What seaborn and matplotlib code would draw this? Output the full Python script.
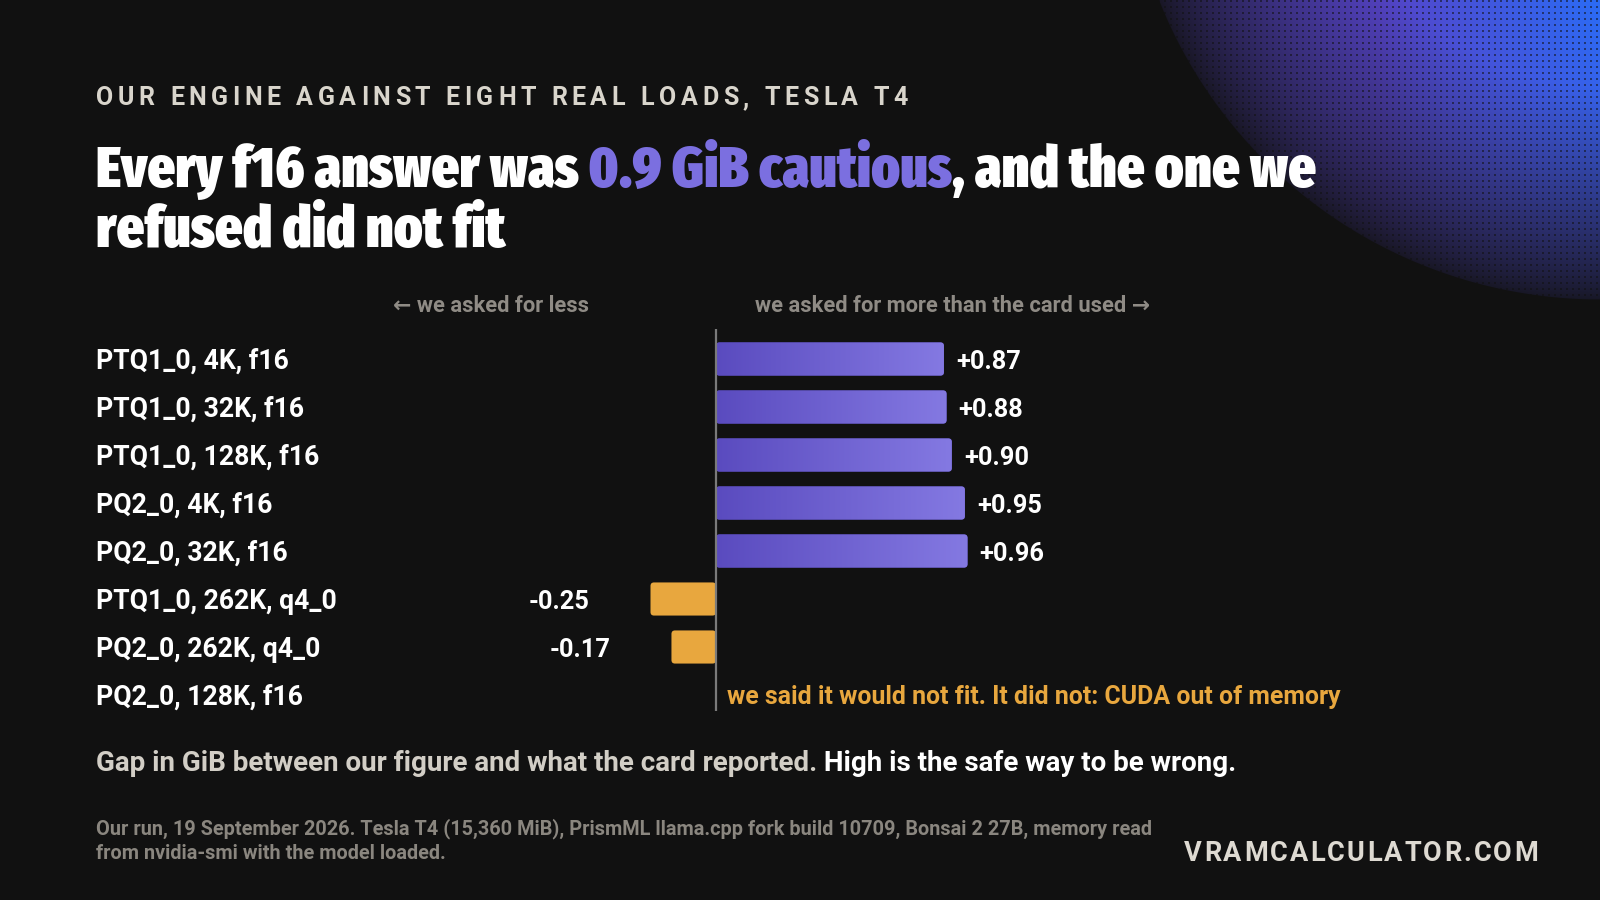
import numpy as np
import pandas as pd
import matplotlib
matplotlib.use("Agg")
import matplotlib.pyplot as plt
import seaborn as sns
from matplotlib import font_manager as fm
from matplotlib.transforms import blended_transform_factory, offset_copy
from matplotlib.colors import LinearSegmentedColormap
from matplotlib.patches import FancyBboxPatch

# ---------------- data ----------------
categories = ["PTQ1_0, 4K, f16", "PTQ1_0, 32K, f16", "PTQ1_0, 128K, f16",
              "PQ2_0, 4K, f16", "PQ2_0, 32K, f16", "PTQ1_0, 262K, q4_0",
              "PQ2_0, 262K, q4_0", "PQ2_0, 128K, f16"]
gaps = [0.87, 0.88, 0.90, 0.95, 0.96, -0.25, -0.17, np.nan]
value_labels = ["+0.87", "+0.88", "+0.90", "+0.95", "+0.96", "-0.25", "-0.17", ""]
kinds = ["over", "over", "over", "over", "over", "under", "under", "refused"]
refused_note = "we said it would not fit. It did not: CUDA out of memory"

kicker = "OUR ENGINE AGAINST EIGHT REAL LOADS, TESLA T4"
title_l1 = [("Every f16 answer was ", "white"), ("0.9 GiB cautious", "#7b6fe0"),
            (", and the one we", "white")]
title_l2 = "refused did not fit"
left_hint = "\u2190 we asked for less"
right_hint = "we asked for more than the card used \u2192"
caption = [("Gap in GiB between our figure and what the card reported.", "#d2cec6"),
           (" High is the safe way to be wrong.", "white")]
footer = ["Our run, 19 September 2026. Tesla T4 (15,360 MiB), PrismML llama.cpp fork build 10709, Bonsai 2 27B, memory read",
          "from nvidia-smi with the model loaded."]
brand = "VRAMCALCULATOR.COM"

W, H = 1600, 900
BG = "#111111"
PURPLE_L, PURPLE_R = "#5a4bbf", "#8479e2"
ORANGE = "#e8a73e"

sns.set_theme(style="white")
plt.rcParams["font.family"] = ["DejaVu Sans"]

fontinfo = {}
for fe in fm.fontManager.ttflist:
    try:
        wv = int(fe.weight)
    except (TypeError, ValueError):
        wv = {"bold": 700, "heavy": 800, "black": 900, "normal": 400}.get(str(fe.weight), 400)
    fontinfo.setdefault(fe.name, set()).add(wv)

def pick(cands, min_w):
    for n in cands:
        if n in fontinfo and max(fontinfo[n]) >= min_w:
            return n
    return "DejaVu Sans"

TITLE_FAM = pick(["Archivo ExtraCondensed", "Archivo Condensed", "Fira Sans Extra Condensed",
                  "Barlow Condensed", "Roboto Condensed"], 800)
BODY_FAM = pick(["Libre Franklin", "Public Sans", "Work Sans", "Roboto", "DejaVu Sans"], 700)
TITLE_KW = dict(family=[TITLE_FAM, "DejaVu Sans"], fontweight="black")
BODY_KW = dict(family=[BODY_FAM, "DejaVu Sans"], fontweight="bold")

fig = plt.figure(figsize=(16, 9), dpi=100, facecolor=BG)
renderer = fig.canvas.get_renderer()

def text_w(s_, size, **kw):
    t = fig.text(0, 0, "|" + s_ + "|", fontsize=size, **kw)
    t2 = fig.text(0, 0, "||", fontsize=size, **kw)
    w = t.get_window_extent(renderer).width - t2.get_window_extent(renderer).width
    t.remove(); t2.remove()
    return w

def fit(s_, target, maxsize=None, **kw):
    sz = 10 * target / text_w(s_, 10, **kw)
    return min(sz, maxsize) if maxsize else sz

# ---------------- decorative blob (top right) ----------------
yy, xx = np.mgrid[0:330, 1080:1600] + 0.5
cx, cy, R = 1600, -175, 475
d = np.hypot(xx - cx, yy - cy) / R
purple = np.array([0x56, 0x44, 0xc8]) / 255
blue = np.array([0x2b, 0x6c, 0xf6]) / 255
bgc = np.array([0x11, 0x11, 0x11]) / 255
s = np.clip((xx - 1380) / 220, 0, 1) * np.clip(1 - yy / 380, 0, 1)
base = purple * (1 - s[..., None]) + blue * s[..., None]
f = np.clip((1 - d) / 0.45, 0, 1) ** 0.8
k = 0.10 + 0.90 * f
col = bgc + (base - bgc) * k[..., None]
dots = ((xx.astype(int) % 6) < 2) & ((yy.astype(int) % 6) < 2)
col = np.where(dots[..., None], col * 0.45 + bgc * 0.55, col)
alpha = np.clip((1 - d) * R, 0, 1)
fig.figimage(np.dstack([col, alpha]), xo=1080, yo=H - 330, origin="upper", zorder=0)

# ---------------- chart ----------------
left_px, right_px, top_px, bot_px = 96, 1400, 329, 711
zero_px, ppu = 716, 262.0
row0_px, row_step = 359.0, 48.0
ax = fig.add_axes([left_px / W, 1 - bot_px / H, (right_px - left_px) / W, (bot_px - top_px) / H])
ax.set_facecolor("none")

df = pd.DataFrame({"label": categories, "gap": gaps, "kind": kinds})
sns.barplot(data=df, y="label", x="gap", hue="kind", order=categories,
            palette={"over": PURPLE_L, "under": ORANGE, "refused": ORANGE},
            dodge=False, width=0.69, orient="h", legend=False, ax=ax,
            saturation=1, linewidth=0, errorbar=None)

xmin = (left_px - zero_px) / ppu
xmax = (right_px - zero_px) / ppu
ymin = (top_px - row0_px) / row_step
ymax = (bot_px - row0_px) / row_step

cmap = LinearSegmentedColormap.from_list("bar", [PURPLE_L, PURPLE_R])
grad = np.linspace(0, 1, 256)[None, :]
for p in list(ax.patches):
    w = p.get_width()
    if not np.isfinite(w) or w == 0:
        continue
    x0 = min(p.get_x(), p.get_x() + w)
    wa = abs(w)
    y0, h = p.get_y(), p.get_height()
    fb = FancyBboxPatch((x0, y0), wa, h,
                        boxstyle=f"round,pad=0,rounding_size={3.5 / ppu}",
                        mutation_aspect=ppu / row_step,
                        facecolor=p.get_facecolor(), linewidth=0, zorder=p.get_zorder())
    ax.add_patch(fb)
    p.set_visible(False)
    if w > 0:
        im = ax.imshow(grad, extent=[x0, x0 + wa, y0 + h, y0], aspect="auto",
                       cmap=cmap, zorder=fb.get_zorder() + 0.1, interpolation="bilinear")
        im.set_clip_path(fb)

ax.set_xlim(xmin, xmax)
ax.set_ylim(ymax, ymin)
ax.axvline(0, color="#7a7a7a", lw=1.6, zorder=5)
for sp in ax.spines.values():
    sp.set_visible(False)
ax.set_xticks([])
ax.set_yticks([])
ax.set_xlabel("")
ax.set_ylabel("")

# category labels at left
lbl_size = fit(max(categories, key=len), 241, **BODY_KW)
trans_lbl = offset_copy(blended_transform_factory(ax.transAxes, ax.transData), fig=fig, x=0, y=-10, units="dots")
for i, c in enumerate(categories):
    ax.text(0, i, c, transform=trans_lbl, ha="left", va="baseline", color="white",
            fontsize=lbl_size, **BODY_KW)

# value labels
val_size = fit("+0.87", 65, **BODY_KW)
for i, (g, vl) in enumerate(zip(gaps, value_labels)):
    if not np.isfinite(g):
        continue
    if g >= 0:
        tr = offset_copy(ax.transData, fig=fig, x=12, y=-10, units="dots")
        ax.text(g, i, vl, transform=tr, ha="left", va="baseline", color="white",
                fontsize=val_size, **BODY_KW)
    else:
        tr = offset_copy(ax.transData, fig=fig, x=-61, y=-10, units="dots")
        ax.text(g, i, vl, transform=tr, ha="right", va="baseline", color="white",
                fontsize=val_size, **BODY_KW)

# refused note
ri = kinds.index("refused")
note_size = fit(refused_note, 617, **BODY_KW)
tr = offset_copy(ax.transData, fig=fig, x=11, y=-9, units="dots")
ax.text(0, ri, refused_note, transform=tr, ha="left", va="baseline", color=ORANGE,
        fontsize=note_size, **BODY_KW)

# ---------------- text helpers ----------------
def fx(px):
    return px / W

def fy(py):
    return 1 - py / H

def runs(x, y, parts, size, **kw):
    cxp = x
    for s_, c_ in parts:
        fig.text(fx(cxp), fy(y), s_, color=c_, va="baseline", ha="left", fontsize=size, **kw)
        cxp += text_w(s_, size, **kw)

def spaced(x, y, s_, size, target, ha="left", color="white", **kw):
    widths = [text_w(ch, size, **kw) for ch in s_]
    track = (target - sum(widths)) / (len(s_) - 1)
    cxp = x - target if ha == "right" else x
    for ch, wch in zip(s_, widths):
        if ch != " ":
            fig.text(fx(cxp), fy(y), ch, color=color, ha="left", va="baseline", fontsize=size, **kw)
        cxp += wch + track

# kicker (letter-spaced)
spaced(96, 105, kicker, 18, 812, color="#d9d5cc", **BODY_KW)

# title
full_l1 = "".join(s_ for s_, _ in title_l1)
t_size = fit(full_l1, 1227, maxsize=44, **TITLE_KW)
runs(96, 187, title_l1, t_size, **TITLE_KW)
fig.text(fx(96), fy(247), title_l2, color="white", fontsize=t_size,
         va="baseline", ha="left", **TITLE_KW)

# hints
hint_size = fit(right_hint, 396, **BODY_KW)
fig.text(fx(589), fy(312), left_hint, color="#8f8b85", fontsize=hint_size,
         ha="right", va="baseline", **BODY_KW)
fig.text(fx(755), fy(312), right_hint, color="#8f8b85", fontsize=hint_size,
         ha="left", va="baseline", **BODY_KW)

# caption
cap_size = fit("".join(s_ for s_, _ in caption), 1149, **BODY_KW)
runs(96, 771, caption, cap_size, **BODY_KW)

# footer
foot_size = fit(footer[0], 1054, **BODY_KW)
fig.text(fx(96), fy(834), footer[0], color="#8a867f", fontsize=foot_size,
         ha="left", va="baseline", **BODY_KW)
fig.text(fx(96), fy(859), footer[1], color="#8a867f", fontsize=foot_size,
         ha="left", va="baseline", **BODY_KW)

# brand (letter-spaced)
spaced(1538, 861, brand, 19.5, 354, ha="right", color="#dedad2", **BODY_KW)

fig.savefig("out.png", dpi=100, facecolor=BG)
